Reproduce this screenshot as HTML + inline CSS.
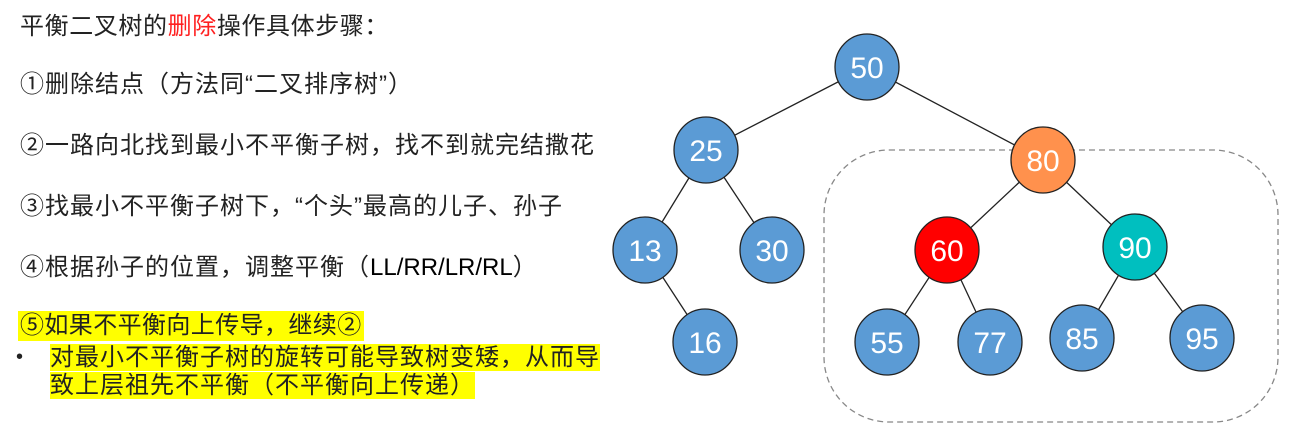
<!DOCTYPE html>
<html><head><meta charset="utf-8"><style>
body{margin:0;width:1291px;height:429px;background:#fff;overflow:hidden;position:relative;font-family:"Liberation Sans","Noto Sans CJK SC",sans-serif;}
.t{position:absolute;left:20px;font-size:24px;line-height:30px;color:#222;white-space:nowrap;letter-spacing:1px;}
.hl{background:#ffff00;}
</style></head><body>
<div class="t" style="top:12px;letter-spacing:0.6px">平衡二叉树的<span style="color:#ff2020">删除</span>操作具体步骤：</div>
<div class="t" style="top:70px">①删除结点（方法同“二叉排序树”）</div>
<div class="t" style="top:131px">②一路向北找到最小不平衡子树，找不到就完结撒花</div>
<div class="t" style="top:192px">③找最小不平衡子树下，“个头”最高的儿子、孙子</div>
<div class="t" style="top:253px">④根据孙子的位置，调整平衡（<span style="color:#000;letter-spacing:0">LL/RR/LR/RL</span>）</div>
<div class="t hl" style="top:311px;left:18px;padding:0 2px;letter-spacing:0.4px">⑤如果不平衡向上传导，继续②</div>
<div class="t" style="top:342px;left:16px;font-size:20px">•</div>
<div class="t" style="top:344px;left:50px;letter-spacing:1px;line-height:28px"><span class="hl">对最小不平衡子树的旋转可能导致树变矮，从而导</span><br><span class="hl">致上层祖先不平衡（不平衡向上传递）</span></div>
<svg width="1291" height="429" style="position:absolute;left:0;top:0">
<rect x="824" y="150" width="454" height="272" rx="65" fill="none" stroke="#888" stroke-width="1.3" stroke-dasharray="6,4"/>
<g stroke="#222" stroke-width="1.3">
<line x1="867" y1="67" x2="706" y2="150"/><line x1="867" y1="67" x2="1043" y2="160"/>
<line x1="706" y1="150" x2="645" y2="250"/><line x1="706" y1="150" x2="772" y2="250"/>
<line x1="645" y1="250" x2="705" y2="342"/>
<line x1="1043" y1="160" x2="947" y2="250"/><line x1="1043" y1="160" x2="1135" y2="247"/>
<line x1="947" y1="250" x2="887" y2="342"/><line x1="947" y1="250" x2="990" y2="342"/>
<line x1="1135" y1="247" x2="1082" y2="338"/><line x1="1135" y1="247" x2="1202" y2="338"/>
</g>
<g stroke="#222" stroke-width="1.3">
<ellipse cx="867" cy="67" rx="32" ry="33" fill="#5b9bd5"/>
<ellipse cx="706" cy="150" rx="32" ry="33" fill="#5b9bd5"/>
<ellipse cx="1043" cy="160" rx="32" ry="33" fill="#ff914d"/>
<ellipse cx="645" cy="250" rx="32" ry="33" fill="#5b9bd5"/>
<ellipse cx="772" cy="250" rx="32" ry="33" fill="#5b9bd5"/>
<ellipse cx="947" cy="250" rx="32" ry="33" fill="#ff0000"/>
<ellipse cx="1135" cy="247" rx="32" ry="33" fill="#00bfbf"/>
<ellipse cx="705" cy="342" rx="32" ry="33" fill="#5b9bd5"/>
<ellipse cx="887" cy="342" rx="32" ry="33" fill="#5b9bd5"/>
<ellipse cx="990" cy="342" rx="32" ry="33" fill="#5b9bd5"/>
<ellipse cx="1082" cy="338" rx="32" ry="33" fill="#5b9bd5"/>
<ellipse cx="1202" cy="338" rx="32" ry="33" fill="#5b9bd5"/>
</g>
<g fill="#fff" font-family="Liberation Sans" font-size="30" text-anchor="middle">
<text x="867" y="78">50</text><text x="706" y="161">25</text><text x="1043" y="171">80</text>
<text x="645" y="261">13</text><text x="772" y="261">30</text><text x="947" y="261">60</text>
<text x="1135" y="258">90</text><text x="705" y="353">16</text><text x="887" y="353">55</text>
<text x="990" y="353">77</text><text x="1082" y="349">85</text><text x="1202" y="349">95</text>
</g>
</svg>
</body></html>
